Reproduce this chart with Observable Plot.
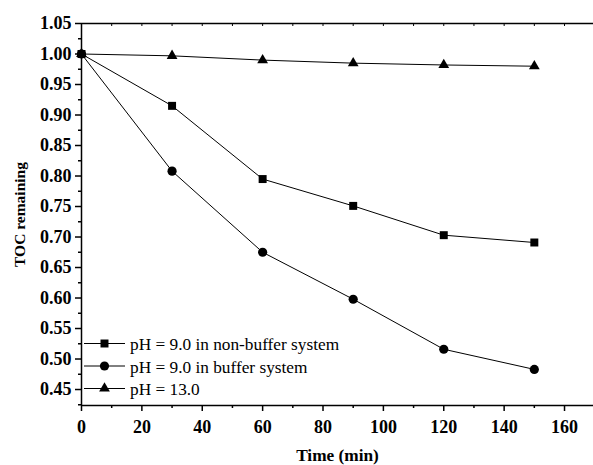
<!DOCTYPE html>
<html>
<head>
<meta charset="utf-8">
<script src="https://cdn.jsdelivr.net/npm/d3@7"></script>
<script src="https://cdn.jsdelivr.net/npm/@observablehq/plot@0.6"></script>
<style>
  html, body { margin: 0; padding: 0; background: #fff; overflow: hidden; }
  #wrap { position: relative; width: 593px; height: 465px; }
  #wrap svg text { font-family: "Liberation Serif", "Times New Roman", serif; }
  #legend { position: absolute; left: 0; top: 0; pointer-events: none; }
</style>
</head>
<body>
<div id="wrap"></div>
<script>
const time = [0, 30, 60, 90, 120, 150];
const nonBuffer = [1.000, 0.915, 0.795, 0.751, 0.703, 0.691];
const buffer = [1.000, 0.808, 0.675, 0.598, 0.516, 0.483];
const pH13 = [1.000, 0.997, 0.990, 0.985, 0.982, 0.980];
const seriesNames = ["pH = 9.0 in non-buffer system", "pH = 9.0 in buffer system", "pH = 13.0"];
const symbols = ["square", "circle", "triangle"];
const xTicks = [0, 20, 40, 60, 80, 100, 120, 140, 160];
const xMinor = [10, 30, 50, 70, 90, 110, 130, 150, 170];
const yTicks = [0.45, 0.50, 0.55, 0.60, 0.65, 0.70, 0.75, 0.80, 0.85, 0.90, 0.95, 1.00, 1.05];
const yMinor = [0.425, 0.475, 0.525, 0.575, 0.625, 0.675, 0.725, 0.775, 0.825, 0.875, 0.925, 0.975, 1.025];

const allSeries = [nonBuffer, buffer, pH13];
const rows = [];
allSeries.forEach((vals, si) => vals.forEach((v, i) => rows.push({t: time[i], v, s: seriesNames[si], sym: symbols[si]})));

const xDomain = [0, 169.6];
const yDomain = [0.4238, 1.05];
const font = "'Liberation Serif', 'Times New Roman', serif";

const symR = {square: 4.5, circle: 4.6, triangle: 4.0};

const plot = Plot.plot({
  width: 593,
  height: 465,
  marginLeft: 81,
  marginRight: 0,
  marginTop: 23,
  marginBottom: 60,
  style: "font-family: 'Liberation Serif', serif; background: #fff; overflow: visible;",
  x: {domain: xDomain},
  y: {domain: yDomain},
  marks: [
    Plot.axisX({ticks: xTicks, tickSize: 6, tickPadding: 9, tickFormat: d => String(d), fontSize: 18, fontWeight: "bold", strokeWidth: 1.5,
      label: "Time (min)", labelAnchor: "center", labelArrow: "none", labelOffset: 55}),
    Plot.axisX({ticks: xMinor, tickSize: 3, text: null, strokeWidth: 1.5, label: null}),
    Plot.axisX({anchor: "top", ticks: xTicks.concat(xMinor), tickSize: -2, text: null, strokeWidth: 1, label: null}),
    Plot.axisY({ticks: yTicks, tickSize: 6, tickPadding: 4, tickFormat: d => d.toFixed(2), fontSize: 18, fontWeight: "bold", strokeWidth: 1.5,
      label: "TOC remaining", labelAnchor: "center", labelArrow: "none", labelOffset: 68}),
    Plot.axisY({ticks: yMinor, tickSize: 3, text: null, strokeWidth: 1.5, label: null}),
    Plot.ruleX([xDomain[0]], {stroke: "#000", strokeWidth: 1.5}),
    Plot.ruleY([yDomain[0]], {stroke: "#000", strokeWidth: 1.5}),
    Plot.ruleY([yDomain[1]], {stroke: "#000", strokeWidth: 1.5}),
    Plot.line(rows, {x: "t", y: "v", z: "s", stroke: "#000", strokeWidth: 1}),
    ...symbols.map(sym => Plot.dot(rows.filter(d => d.sym === sym), {x: "t", y: "v", symbol: () => sym, r: symR[sym], fill: "#000", stroke: "none"}))
  ]
});

// style axis labels
plot.querySelectorAll("g[aria-label='x-axis label'] text").forEach(t => {
  t.setAttribute("font-weight", "bold");
  t.setAttribute("font-size", "17.3");
});
plot.querySelectorAll("g[aria-label='y-axis label'] text").forEach(t => {
  t.setAttribute("font-weight", "bold");
  t.setAttribute("font-size", "15.5");
});

document.getElementById("wrap").appendChild(plot);

// Legend overlay
const ns = "http://www.w3.org/2000/svg";
const leg = document.createElementNS(ns, "svg");
leg.setAttribute("id", "legend");
leg.setAttribute("width", 593);
leg.setAttribute("height", 465);
const legX0 = 84, legX1 = 125, legTextX = 130, legY0 = 343.5, legDy = 22.5;
seriesNames.forEach((name, i) => {
  const y = legY0 + i * legDy;
  const line = document.createElementNS(ns, "line");
  line.setAttribute("x1", legX0); line.setAttribute("x2", legX1);
  line.setAttribute("y1", y); line.setAttribute("y2", y);
  line.setAttribute("stroke", "#000"); line.setAttribute("stroke-width", 1);
  leg.appendChild(line);
  const sym = d3.symbol().type({square: d3.symbolSquare, circle: d3.symbolCircle, triangle: d3.symbolTriangle}[symbols[i]]).size(Math.PI * symR[symbols[i]] ** 2);
  const p = document.createElementNS(ns, "path");
  p.setAttribute("d", sym());
  p.setAttribute("transform", `translate(${(legX0 + legX1) / 2},${y})`);
  p.setAttribute("fill", "#000");
  leg.appendChild(p);
  const t = document.createElementNS(ns, "text");
  t.setAttribute("x", legTextX); t.setAttribute("y", y + 6.8);
  t.setAttribute("font-size", 17.3);
  t.textContent = name;
  leg.appendChild(t);
});
document.getElementById("wrap").appendChild(leg);
</script>
</body>
</html>
